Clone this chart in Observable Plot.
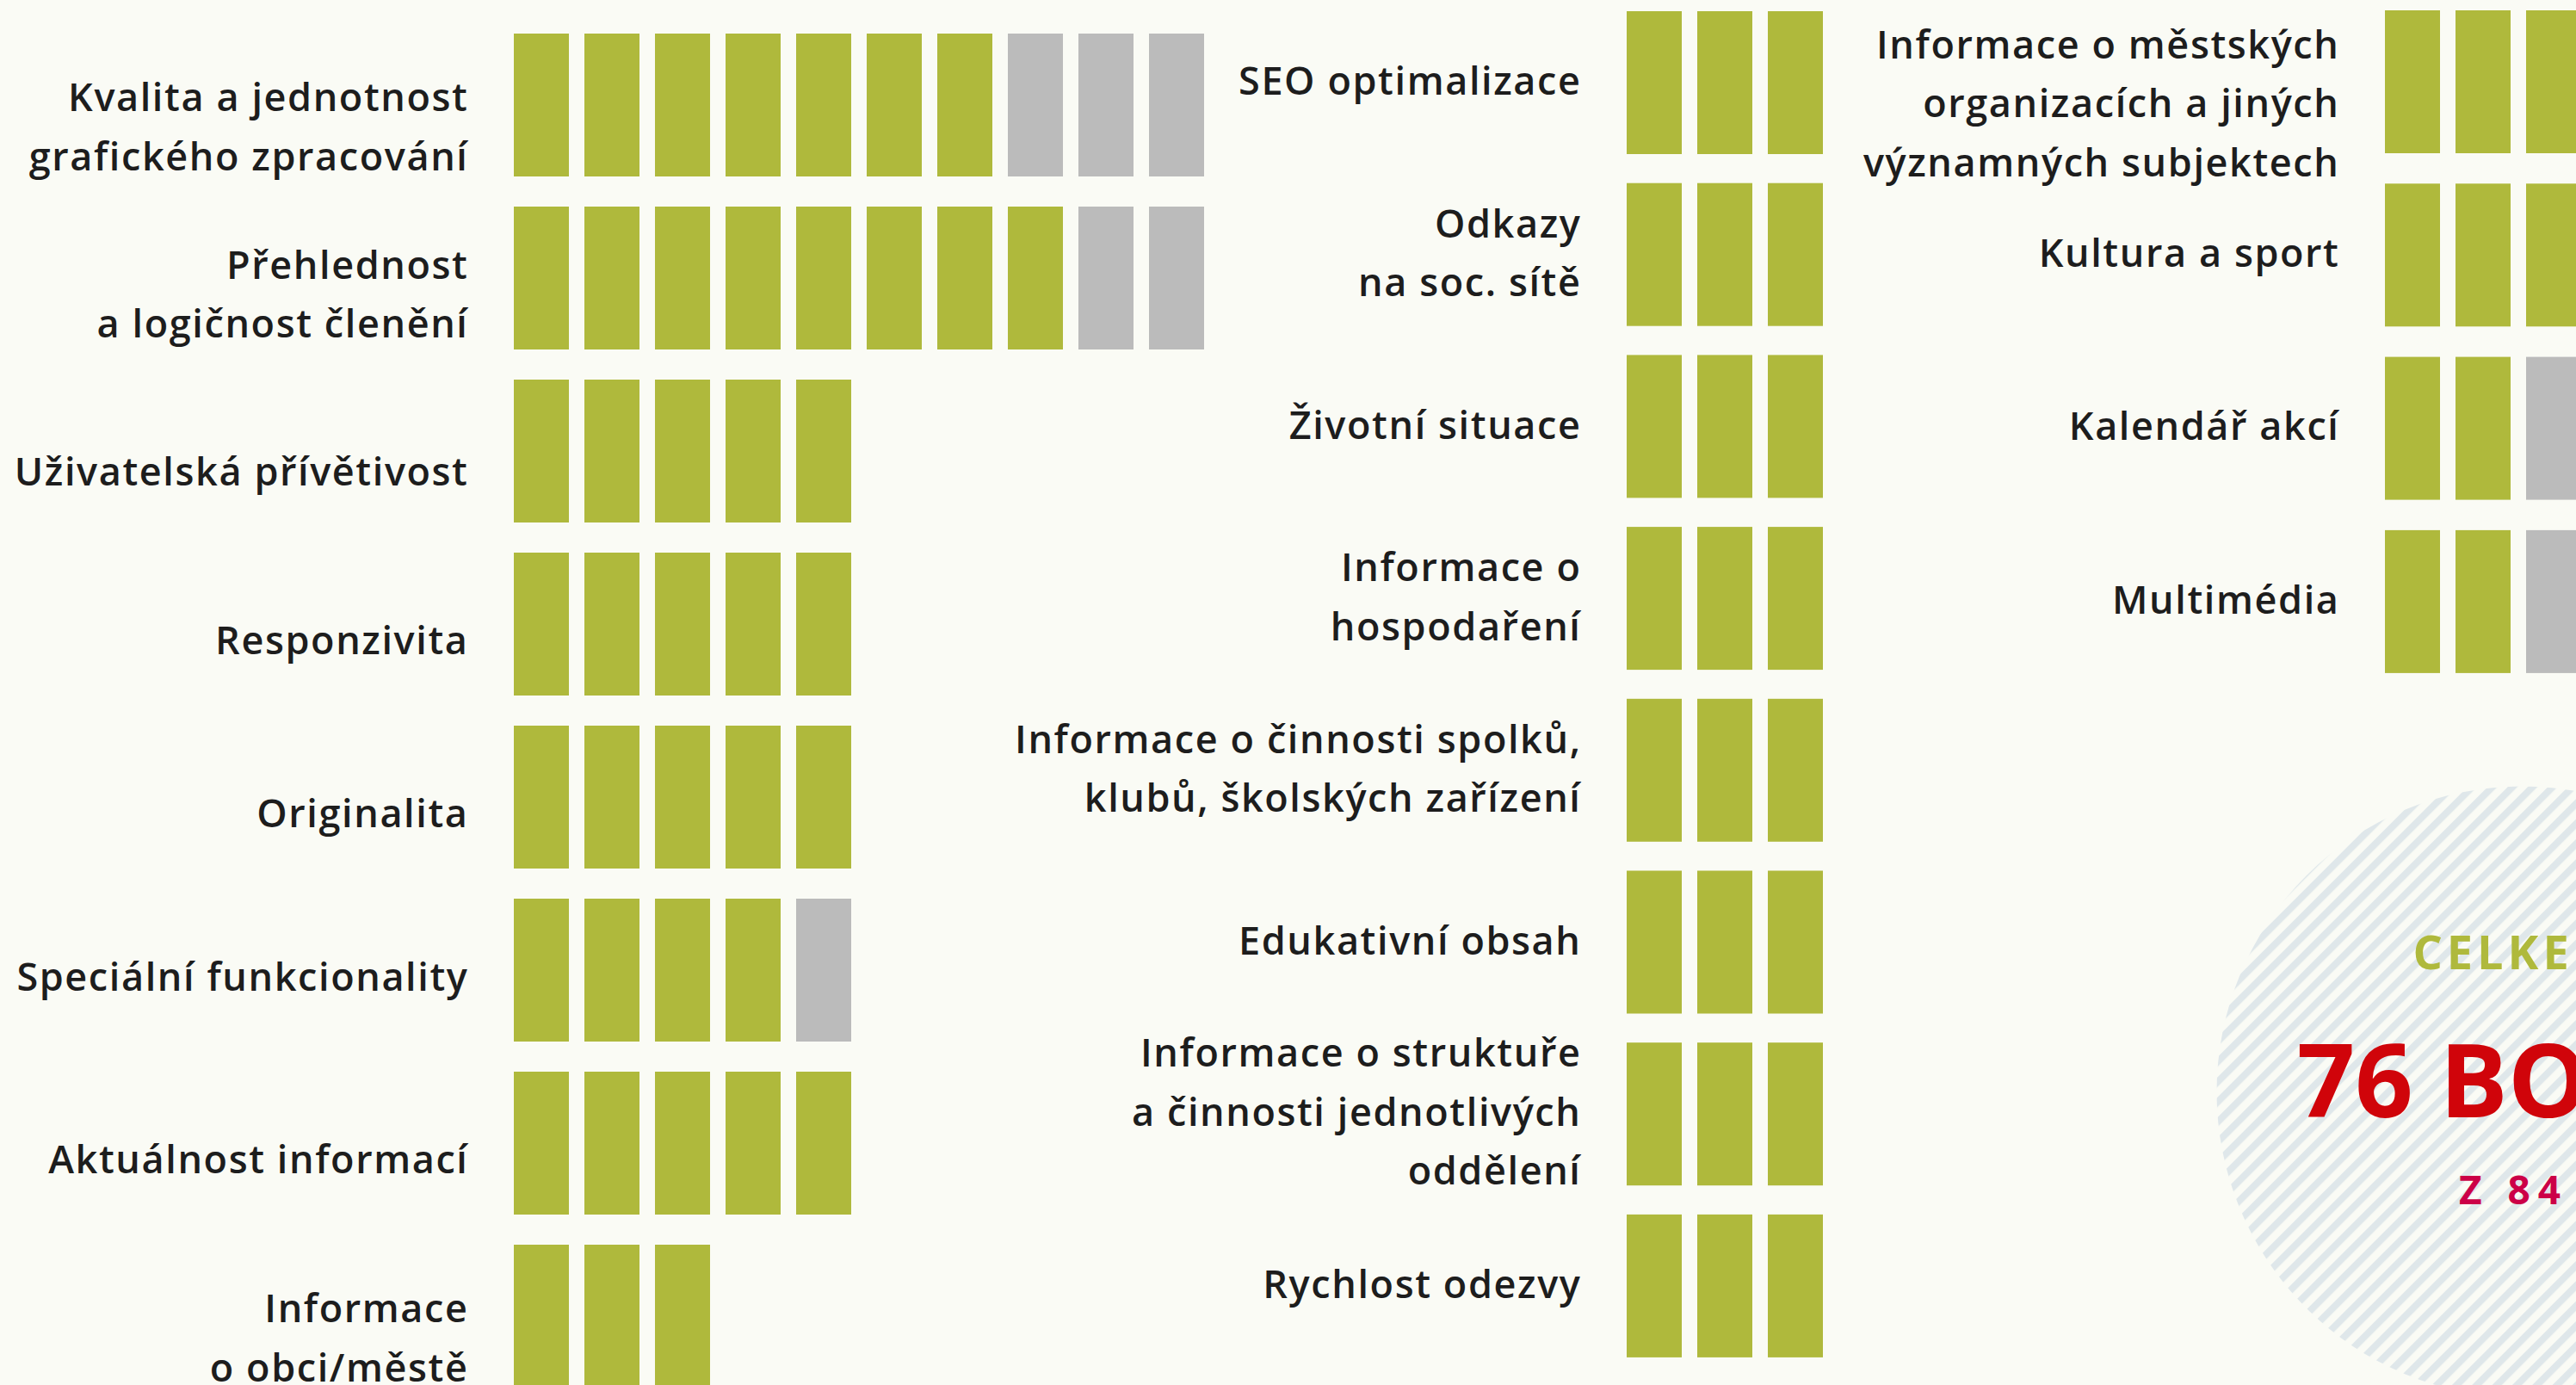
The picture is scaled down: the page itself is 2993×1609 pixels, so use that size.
<!DOCTYPE html>
<html><head><meta charset="utf-8">
<script src="https://cdn.jsdelivr.net/npm/d3@7"></script>
<script src="https://cdn.jsdelivr.net/npm/@observablehq/plot@0.6"></script>
<style>
html,body{margin:0;padding:0;background:#fafbf5;overflow:hidden}
#chart svg{display:block}
</style></head><body><div id="chart"></div>
<script>
// ---------- DATA ----------
const col1Labels = ["Kvalita a jednotnost\ngrafického zpracování", "Přehlednost\na logičnost členění", "Uživatelská přívětivost", "Responzivita", "Originalita", "Speciální funkcionality", "Aktuálnost informací", "Informace\no obci/městě"];
const col1Max   = [10, 10, 5, 5, 5, 5, 5, 3];
const col1Score = [7, 8, 5, 5, 5, 4, 5, 3];

const col2Labels = ["SEO optimalizace", "Odkazy\nna soc. sítě", "Životní situace", "Informace o\nhospodaření", "Informace o činnosti spolků,\nklubů, školských zařízení", "Edukativní obsah", "Informace o struktuře\na činnosti jednotlivých\noddělení", "Rychlost odezvy"];
const col2Max   = [3, 3, 3, 3, 3, 3, 3, 3];
const col2Score = [3, 3, 3, 3, 3, 3, 3, 3];

const col3Labels = ["Informace o městských\norganizacích a jiných\nvýznamných subjektech", "Kultura a sport", "Kalendář akcí", "Multimédia"];
const col3Max   = [3, 3, 3, 3];
const col3Score = [3, 3, 2, 2];

const totalWord = "CELKEM";
const pointsWord = "BODŮ";
const ofWord = "Z";

// ---------- LAYOUT / STYLE ----------
const W = 2993, H = 1609;
const SLOT = 82, ROW = 200.5, BAR_W = 64, BAR_H = 166;
const colLeft = [597, 1890, 2771];
const colTop = [39, 13, 12];
const colPitch = [201, 199.7, 201.3];
// vertical nudge of each label (px) relative to its bar row
const labelNudge = [
  [19, 12.5, 18, 13, 13, 2, 12.5, 19],
  [-8, -8, -8, -8, -8, -8, -9, -8],
  [19, -9, -9, -8]
];
const badge = {cx: 2930, cy: 1268, r: 355};
const GREEN = "#afb93c", GRAY = "#bbbbbb", BG = "#fafbf5", INK = "#1d1d1d";
const RED = "#d0040a", CRIMSON = "#cc0047", STRIPE = "#dfe7ea";

const columns = [
  {labels: col1Labels, max: col1Max, score: col1Score},
  {labels: col2Labels, max: col2Max, score: col2Score},
  {labels: col3Labels, max: col3Max, score: col3Score}
];

const cells = columns.flatMap((c, ci) => c.labels.flatMap((lab, r) =>
  d3.range(c.max[r]).map(i => ({col: ci, row: r, i, filled: i < c.score[r]}))));
const labels = columns.flatMap((c, ci) => c.labels.map((text, r) => ({col: ci, row: r, text})));

const total = d3.sum(columns, c => d3.sum(c.score));
const maxTotal = d3.sum(columns, c => d3.sum(c.max));

const rowTop = d => (colTop[d.col] + d.row * colPitch[d.col]) / ROW;
const bx = badge.cx / SLOT, by = badge.cy / ROW;
const textFont = "'Open Sans', 'Noto Sans', sans-serif";
const boldFont = "'Open Sans', 'Noto Sans', sans-serif";

const svg = Plot.plot({
  width: W, height: H,
  margin: 0,
  style: {background: BG},
  x: {domain: [0, W / SLOT], range: [0, W], axis: null},
  y: {domain: [0, H / ROW], range: [0, H], axis: null},
  marks: [
    Plot.dot([{x: bx, y: by}], {x: "x", y: "y", r: badge.r, fill: "url(#hatch)", stroke: "none"}),
    Plot.rect(cells, {
      x1: d => colLeft[d.col] / SLOT + d.i,
      x2: d => colLeft[d.col] / SLOT + d.i + 1,
      y1: d => rowTop(d),
      y2: d => rowTop(d) + BAR_H / ROW,
      insetRight: SLOT - BAR_W,
      fill: d => d.filled ? GREEN : GRAY
    }),
    Plot.text(labels, {
      x: d => colLeft[d.col] / SLOT,
      y: d => rowTop(d) + (BAR_H / 2 + labelNudge[d.col][d.row]) / ROW,
      text: "text",
      textAnchor: "end",
      dx: -53,
      lineHeight: 1.52,
      fontSize: 45,
      fontWeight: 600,
      fontFamily: textFont,
      fill: INK
    }),
    Plot.text([totalWord], {x: () => bx, y: () => by, text: d => d, lineAnchor: "bottom", dx: -6, dy: -143,
      fontSize: 54, fontWeight: 700, fontFamily: boldFont, fill: GREEN}),
    Plot.text([`${total} ${pointsWord}`], {x: () => bx, y: () => by, text: d => d, lineAnchor: "bottom", dx: -4, dy: 29,
      fontSize: 118, fontWeight: 700, fontFamily: boldFont, fill: RED}),
    Plot.text([`${ofWord} ${maxTotal}`], {x: () => bx, y: () => by, text: d => d, lineAnchor: "bottom", dx: -10, dy: 130,
      fontSize: 46, fontWeight: 700, fontFamily: boldFont, fill: CRIMSON})
  ]
});

// hatch pattern for the badge
const ns = "http://www.w3.org/2000/svg";
const defs = document.createElementNS(ns, "defs");
defs.innerHTML = `<pattern id="hatch" patternUnits="userSpaceOnUse" width="16.5" height="16.5" patternTransform="rotate(45)">
  <rect width="16.5" height="16.5" fill="${BG}"/><rect width="8" height="16.5" fill="${STRIPE}"/></pattern>`;
svg.insertBefore(defs, svg.firstChild);

const groups = svg.querySelectorAll(":scope > g");
const spacing = ["", "", "1.6px", "5px", "0px", "9px"];
groups.forEach((g, i) => { if (spacing[i]) g.style.letterSpacing = spacing[i]; });

document.getElementById("chart").appendChild(svg);
</script>
</body></html>
